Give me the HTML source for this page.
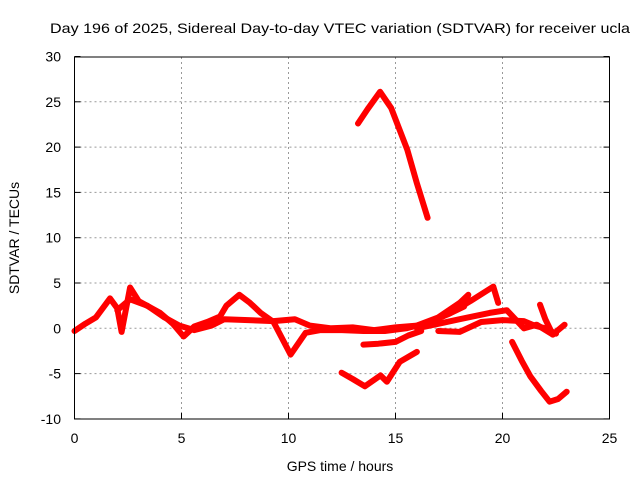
<!DOCTYPE html>
<html><head><meta charset="utf-8"><style>
html,body{margin:0;padding:0;background:#fff;}
svg{display:block;font-family:"Liberation Sans",sans-serif;}
</style></head><body>
<svg id="chart" width="640" height="480" viewBox="0 0 640 480" xmlns="http://www.w3.org/2000/svg">
<rect width="640" height="480" fill="#fff"/>
<text x="50" y="33" font-size="14" textLength="580" lengthAdjust="spacingAndGlyphs">Day 196 of 2025, Sidereal Day-to-day VTEC variation (SDTVAR) for receiver ucla</text>
<text transform="translate(19,238) rotate(-90)" text-anchor="middle" font-size="14">SDTVAR / TECUs</text>
<text x="340" y="471" text-anchor="middle" font-size="14">GPS time / hours</text>
<g id="grid"></g>
<g id="ticks"></g>
<g id="series"></g>
<rect x="74.5" y="57" width="535" height="362" fill="none" stroke="#000" stroke-width="1"/>
</svg>
<script>
const xTicks=[0,5,10,15,20,25];
const yTicks=[-10,-5,0,5,10,15,20,25,30];
const segTopX=[13.25,13.7,14.28,14.8,15.55,16.0,16.5];
const segTopY=[22.6,24.2,26.1,24.3,19.7,16.0,12.2];
const segMainX=[0,0.5,1,1.66,2.0,2.2,2.6,3.0,4.0,4.6,5.1,5.6,6.2,6.8,7.1,7.7,8.2,8.7,9.3,10.1,10.8,11.5,12.5,13.5,14.5,15.5,16.5,17.5,18.5,19.57,19.8];
const segMainY=[-0.3,0.5,1.2,3.3,2.2,-0.4,4.5,3.0,1.7,0.5,-0.9,0.2,0.7,1.3,2.5,3.7,2.8,1.7,0.7,-2.9,-0.5,-0.2,-0.2,-0.3,-0.3,0.0,0.6,1.6,3.0,4.6,2.8];
const segUpperX=[2.0,2.6,3.4,4.2,4.9,5.6,6.4,7.0,9.3,10.3,11.0,12.0,13.0,14.0,15.0,16.0,17.0,18.0,18.4,18.2,17.5,16.5];
const segUpperY=[2.0,3.2,2.5,1.2,0.3,-0.2,0.3,1.0,0.8,1.0,0.3,0.0,0.1,-0.2,0.1,0.3,1.2,2.8,3.7,2.4,1.6,0.6];
const segLowX=[16.0,17.0,18.0,19.4,20.2,21.0,21.6,22.35,22.9];
const segLowY=[0.0,0.5,1.0,1.7,2.0,0.0,0.4,-0.7,0.4];
const segLow2X=[17.0,18.0,19.0,20.0,21.0,21.5,22.0,22.5];
const segLow2Y=[-0.3,-0.4,0.7,0.9,0.8,0.3,0.0,-0.6];
const segHookX=[21.75,22.0,22.35];
const segHookY=[2.6,1.0,-0.7];
const segMidX=[13.5,14.2,15.0,15.6,16.2];
const segMidY=[-1.8,-1.7,-1.5,-0.8,-0.3];
const segBX=[12.48,13.0,13.57,14.3,14.6,15.2,16.0];
const segBY=[-4.9,-5.6,-6.4,-5.2,-5.9,-3.7,-2.6];
const segDX=[20.45,20.9,21.3,21.8,22.2,22.6,23.0];
const segDY=[-1.5,-3.6,-5.3,-6.9,-8.1,-7.8,-7.0];
const X=v=>74.5+v*21.4;
const Y=v=>328.3-v*9.06;
const NS='http://www.w3.org/2000/svg';
const grid=document.getElementById('grid'),ticks=document.getElementById('ticks'),series=document.getElementById('series');
function mk(tag,attrs,parent){const e=document.createElementNS(NS,tag);for(const k in attrs)e.setAttribute(k,attrs[k]);parent.appendChild(e);return e;}
xTicks.forEach(t=>{
 if(t>0&&t<25){const g=mk('line',{x1:X(t),x2:X(t),y1:57,y2:419,stroke:'#999','stroke-dasharray':'2,3'},grid);
 
 }
 const tm=mk('line',{x1:X(t),x2:X(t),y1:419,y2:413,stroke:'#000'},ticks);
 
 
 const tl=mk('text',{x:X(t),y:443,'text-anchor':'middle','font-size':14},ticks);
 tl.textContent=t;
 
 
});
yTicks.forEach(t=>{
 if(t>-10&&t<30){const g=mk('line',{x1:74.5,x2:609.5,y1:Y(t),y2:Y(t),stroke:'#999','stroke-dasharray':'2,3'},grid);
 
 }
 const tm=mk('line',{x1:74.5,x2:80.5,y1:Y(t),y2:Y(t),stroke:'#000'},ticks);
 
 
 const tm2=mk('line',{x1:603.5,x2:609.5,y1:Y(t),y2:Y(t),stroke:'#000'},ticks);
 
 
 const tl=mk('text',{x:61,y:Y(t)+5,'text-anchor':'end','font-size':14},ticks);
 tl.textContent=t;
 
 
});
const segs=[[segTopX,segTopY],[segMainX,segMainY],[segUpperX,segUpperY],[segLowX,segLowY],[segLow2X,segLow2Y],[segHookX,segHookY],[segMidX,segMidY],[segBX,segBY],[segDX,segDY]];
segs.forEach(([xs,ys])=>{
 const pts=xs.map((x,i)=>X(x).toFixed(1)+','+Y(ys[i]).toFixed(1)).join(' ');
 const p=mk('polyline',{points:pts,fill:'none',stroke:'#ff0000','stroke-width':6,'stroke-linejoin':'round','stroke-linecap':'round'},series);
 
 
});
</script>
</body></html>
